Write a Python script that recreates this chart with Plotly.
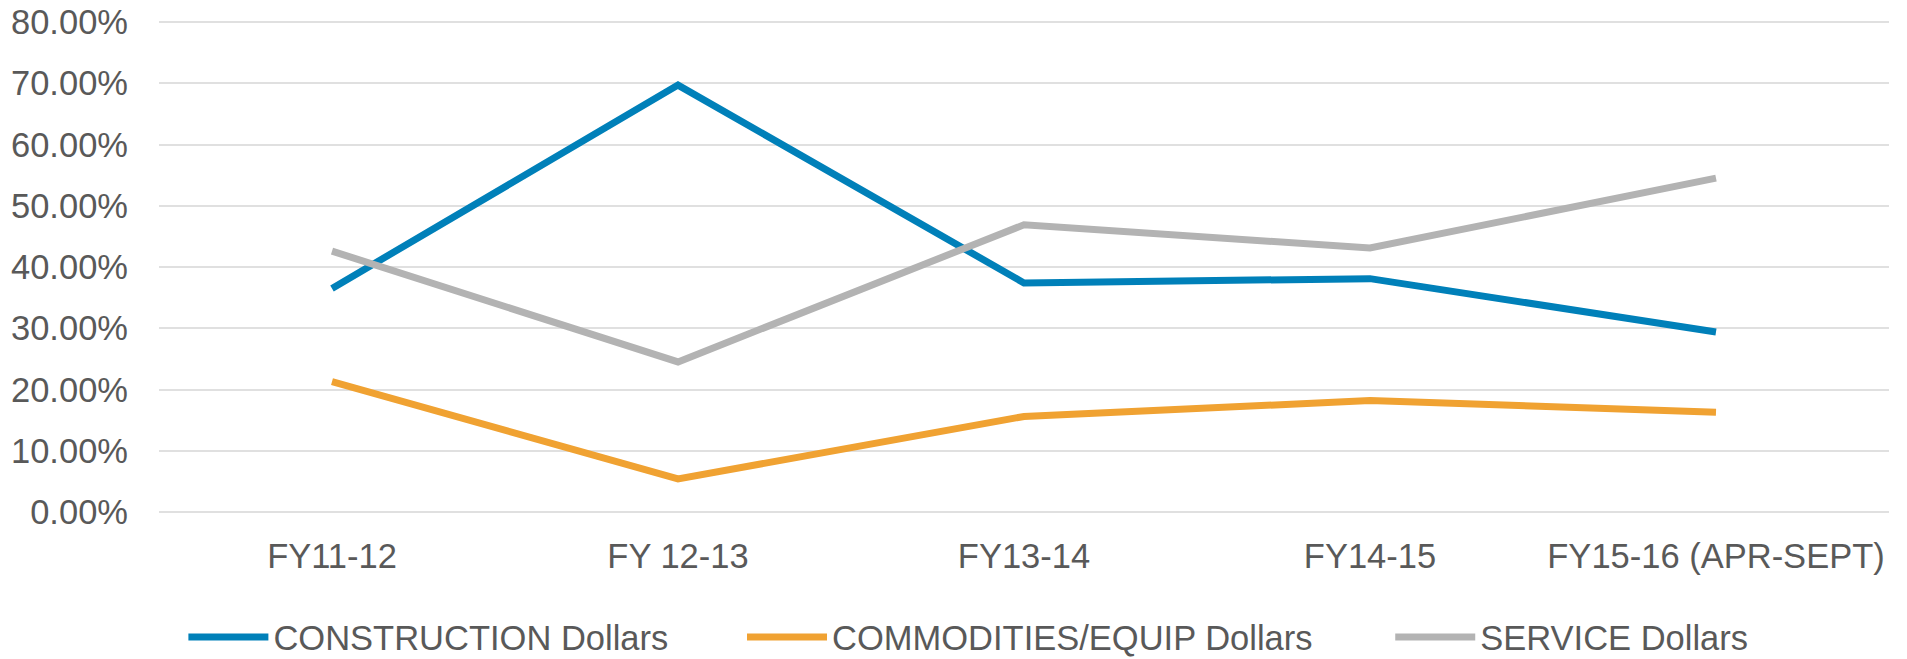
import plotly.graph_objects as go

categories = ["FY11-12", "FY 12-13", "FY13-14", "FY14-15", "FY15-16 (APR-SEPT)"]
construction = [0.365, 0.697, 0.374, 0.381, 0.294]
commodities = [0.213, 0.054, 0.156, 0.182, 0.163]
service = [0.426, 0.245, 0.469, 0.431, 0.545]
y_ticks = [0, 0.1, 0.2, 0.3, 0.4, 0.5, 0.6, 0.7, 0.8]

series = [
    ("CONSTRUCTION Dollars", construction, "#0080B9", "legend", 0.0141),
    ("COMMODITIES/EQUIP Dollars", commodities, "#F0A232", "legend2", 0.3370),
    ("SERVICE Dollars", service, "#B3B3B3", "legend3", 0.7117),
]

FONT = "Liberation Sans, Arial, sans-serif"
TXT = "#595959"
FS = 34.5

fig = go.Figure()
layout_legends = {}
for name, vals, color, lg, lx in series:
    fig.add_trace(go.Scatter(
        x=categories, y=vals, name=name, mode="lines",
        line=dict(color=color, width=7), legend=lg,
    ))
    layout_legends[lg] = dict(
        x=lx, y=-0.254, xanchor="left", yanchor="middle",
        orientation="h", font=dict(family=FONT, size=FS, color=TXT),
        bgcolor="rgba(0,0,0,0)", itemwidth=80,
    )

fig.update_layout(
    width=1907, height=659,
    margin=dict(l=159, r=18, t=20, b=147, autoexpand=False),
    paper_bgcolor="white", plot_bgcolor="white",
    font=dict(family=FONT, size=FS, color=TXT),
    showlegend=True,
    **layout_legends,
)
fig.update_xaxes(
    type="category", range=[-0.5, 4.5], showgrid=False, showline=False,
    zeroline=False, ticks="", tickfont=dict(family=FONT, size=FS, color=TXT),
    ticklabelstandoff=20, automargin=False, ticklabeloverflow="allow",
)
fig.update_yaxes(
    range=[0, 0.80327], tickvals=y_ticks, tickformat=".2%",
    showgrid=True, gridcolor="#E0E0E0", gridwidth=2,
    zeroline=True, zerolinecolor="#E0E0E0", zerolinewidth=2,
    showline=False, ticks="", tickfont=dict(family=FONT, size=FS, color=TXT),
    ticklabelstandoff=30, automargin=False, ticklabeloverflow="allow",
)

fig.write_html(
    "out.html",
    config={"displayModeBar": False},
    post_script="document.body.style.margin='0';document.body.style.overflow='hidden';",
)
